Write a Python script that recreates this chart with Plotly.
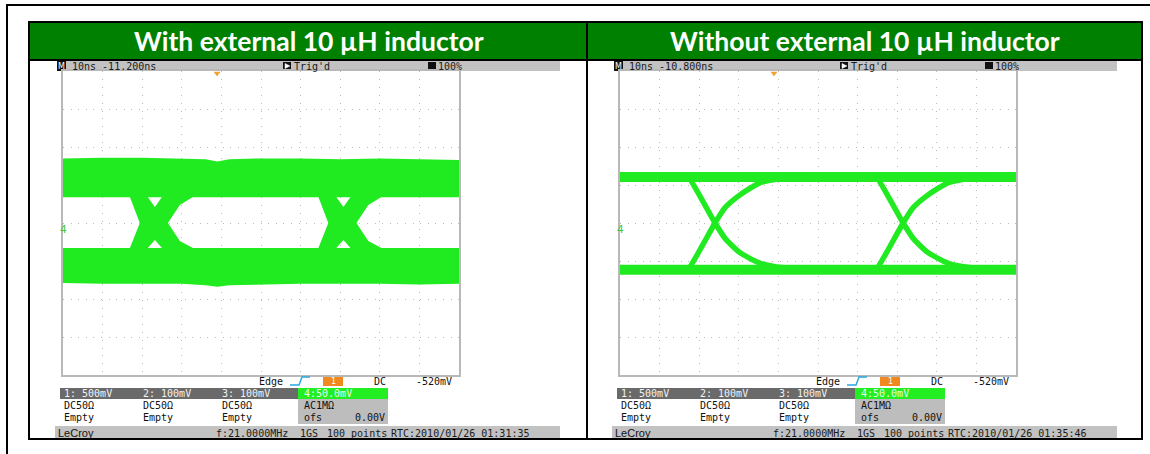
import plotly.graph_objects as go

W, H = 1150, 454
GREEN = "#20ea20"
MONO = "DejaVu Sans Mono"

# ---------------- data (time in ns, 10 ns/div; ch4 in mV, 50 mV/div) ----------------
x_range = [0, 100]
y_range = [-200, 200]

titles = ["With external 10 µH inductor", "Without external 10 µH inductor"]
timebase = ["10ns -11.200ns", "10ns -10.800ns"]
rtc = ["RTC:2010/01/26 01:31:35", "RTC:2010/01/26 01:35:46"]

# Left eye (with inductor): noisy bands
L_env_t = [0, 10, 20, 30, 36, 39, 42, 50, 60, 70, 80, 90, 100]
L_top_v = [85, 86, 86, 85, 84, 81, 84, 85, 85, 84, 85, 84, 83]
L_bot_v = [-79, -80, -80, -80, -82, -84, -82, -81, -80, -80, -80, -81, -80]
L_high_inner = 34
L_low_inner = -33
L_cross_t = [23.2, 70.8]
# transition regions relative to each crossing
L_fall_t = [-6.6, -6.3, -3.8, 0, 1.8, 2.4, 9.9, 9.6, 6.3, 3.3, 0, -1.8, -2.1]
L_fall_v = [40, 34.2, 0, -22.4, -32.9, -40, -40, -32.9, -23.7, 0, 21.1, 34.2, 40]
L_rise_t = [-6.6, -6.3, -3.8, 0, 1.8, 2.4, 9.9, 9.6, 6.3, 3.3, 0, -1.8, -2.1]
L_rise_v = [-40, -32.9, 0, 21.1, 34.2, 40, 40, 34.2, 23.7, 0, -22.4, -32.9, -40]

# Right eye (without inductor): clean thin traces
R_high = [67, 54]
R_low = [-55, -68]
R_cross_t = [24.0, 71.5]
R_edge_t = [-7.2, -6.8, 0, 2.5, 6.3, 11.4, 17.2, 23]
R_rise_v = [-61, -61, 0, 20, 37, 53, 59, 61]
R_fall_v = [61, 61, 0, -20, -39, -53, -59, -61]

ch_row1 = ["1: 500mV", "2: 100mV", "3: 100mV"]
ch_row2 = ["DC50Ω", "DC50Ω", "DC50Ω"]
ch_row3 = ["Empty", "Empty", "Empty"]

# ---------------- layout helpers ----------------
shapes, annos = [], []


def X(x):
    return x / W


def Y(y):
    return 1 - y / H


def rect(x0, y0, x1, y1, fill, lc=None, lw=0, layer="below"):
    shapes.append(dict(type="rect", xref="paper", yref="paper", x0=X(x0), x1=X(x1),
                       y0=Y(y1), y1=Y(y0), fillcolor=fill, layer=layer,
                       line=dict(width=lw, color=lc or fill)))


def hline(x0, x1, y, color="black", w=2):
    shapes.append(dict(type="line", xref="paper", yref="paper", x0=X(x0), x1=X(x1),
                       y0=Y(y), y1=Y(y), line=dict(color=color, width=w), layer="above"))


def vline(x, y0, y1, color="black", w=2):
    shapes.append(dict(type="line", xref="paper", yref="paper", x0=X(x), x1=X(x),
                       y0=Y(y0), y1=Y(y1), line=dict(color=color, width=w), layer="above"))


def path(pts, color, fill=None, w=1.5):
    d = "M " + " L ".join(f"{X(a):.5f},{Y(b):.5f}" for a, b in pts)
    if fill:
        d += " Z"
    shapes.append(dict(type="path", xref="paper", yref="paper", path=d, layer="above",
                       fillcolor=fill or "rgba(0,0,0,0)", line=dict(color=color, width=w)))


def text(x, y, s, size=10, color="#1a1a1a", family=MONO, anchor="left", bold=False):
    if bold:
        s = f"<b>{s}</b>"
    annos.append(dict(xref="paper", yref="paper", x=X(x), y=Y(y), text=s, showarrow=False,
                      xanchor=anchor, yanchor="middle",
                      font=dict(size=size, color=color, family=family)))


fig = go.Figure()

# ---------------- traces ----------------
def poly(xs, ys, axis):
    fig.add_trace(go.Scatter(x=xs, y=ys, fill="toself", fillcolor=GREEN, mode="lines",
                             line=dict(width=0, color=GREEN), xaxis="x" + axis,
                             yaxis="y" + axis, hoverinfo="skip", showlegend=False))


# left: upper band, lower band, transitions
poly(L_env_t + [100, 0], L_top_v + [L_high_inner, L_high_inner], "")
poly(L_env_t + [100, 0], L_bot_v + [L_low_inner, L_low_inner], "")
for c in L_cross_t:
    poly([c + t for t in L_fall_t], L_fall_v, "")
    poly([c + t for t in L_rise_t], L_rise_v, "")

# right: bands + edges
poly([0, 100, 100, 0], [R_high[0], R_high[0], R_high[1], R_high[1]], "2")
poly([0, 100, 100, 0], [R_low[0], R_low[0], R_low[1], R_low[1]], "2")
for c in R_cross_t:
    for vals in (R_rise_v, R_fall_v):
        fig.add_trace(go.Scatter(x=[c + t for t in R_edge_t], y=vals, mode="lines",
                                 line=dict(color=GREEN, width=5.5, shape="spline", smoothing=0.6),
                                 xaxis="x2", yaxis="y2", hoverinfo="skip", showlegend=False))

# ---------------- static page furniture ----------------
# outer page border
hline(6, 1150, 5, w=2)
vline(7, 5, 454, w=2)
# table
rect(29, 22, 587, 60, "#008000")
rect(587, 22, 1142, 60, "#008000")
hline(28, 1143, 22)
hline(28, 1143, 60)
hline(28, 1143, 439)
vline(29, 22, 439)
vline(587, 22, 439)
vline(1142, 22, 439)
text(309, 41.5, titles[0], size=26.5, color="white", family="Lato", anchor="center", bold=True)
text(865, 41.5, titles[1], size=26.5, color="white", family="Lato", anchor="center", bold=True)

for k, dx in enumerate([0, 557]):
    # top status bar
    rect(57 + dx, 61, 560 + dx, 71, "#c2c2c2")
    rect(57 + dx, 61, 66 + dx, 71, "#111111")
    text(61.5 + dx, 66.3, "M", size=8, color="white", anchor="center", family="DejaVu Sans")
    text(70 + dx, 66.3, timebase[k], size=10)
    rect(283 + dx, 62, 291 + dx, 70, "#111111")
    path([(285 + dx, 63.5), (290 + dx, 66), (285 + dx, 68.5)], "white", fill="white", w=0.5)
    text(292 + dx, 66.3, "Trig'd", size=10)
    rect(428 + dx, 62, 436 + dx, 70, "#111111")
    text(436 + dx, 66.3, "100%", size=10)
    # trigger marker
    path([(214 + dx, 72), (220 + dx, 72), (217 + dx, 76)], "#f0a030", fill="#f0a030", w=0.5)
    # channel marker
    text(58 + dx, 229, "4", size=10.5, color="#3cc83c", family="DejaVu Sans")
    # trigger row
    text(257 + dx, 381, "Edge", size=10, color="#111111")
    path([(290 + dx, 385), (299 + dx, 385), (302 + dx, 377), (310 + dx, 377)], "#2aa8e0", w=1.5)
    rect(323 + dx, 377, 343 + dx, 386, "#f08a20")
    text(333 + dx, 381.5, "1", size=8, color="white", anchor="center", family="DejaVu Sans")
    text(372 + dx, 381, "DC", size=10, color="#111111")
    text(414 + dx, 381, "-520mV", size=10, color="#111111")
    # channel table
    rect(60 + dx, 388, 298 + dx, 399, "#6a6a6a")
    rect(298 + dx, 388, 388 + dx, 399, "#22ee22")
    rect(298 + dx, 399, 388 + dx, 424, "#bdbdbd")
    for i, cx in enumerate([62, 141, 220]):
        text(cx + dx, 393.5, ch_row1[i], size=10, color="#f4f4f4")
        text(cx + dx, 405.5, ch_row2[i], size=10, color="#111111")
        text(cx + dx, 417.5, ch_row3[i], size=10, color="#111111")
    text(302 + dx, 393.5, "4:50.0mV", size=10, color="#e8ffe8")
    text(302 + dx, 405.5, "AC1MΩ", size=10, color="#111111")
    text(302 + dx, 417.5, "ofs", size=10, color="#111111")
    text(387 + dx, 417.5, "0.00V", size=10, color="#111111", anchor="right")
    # bottom bar
    rect(55 + dx, 426, 560 + dx, 439, "#c2c2c2")
    text(56 + dx, 433, "LeCroy", size=11, color="#111111", family="Liberation Sans")
    text(214 + dx, 433, "f:21.0000MHz", size=10)
    text(298 + dx, 433, "1GS", size=10)
    text(325 + dx, 433, "100 points", size=10)
    text(389 + dx, 433, rtc[k], size=10)

# ---------------- axes ----------------
def ax(domain):
    return dict(domain=domain, range=x_range, dtick=10, tick0=0, showticklabels=False,
                ticks="", showgrid=True, gridcolor="#bcbcbc", gridwidth=1,
                griddash="1px,6.9px", zeroline=False, showline=True, mirror=True,
                linecolor="#b8b8b8", linewidth=1.5, fixedrange=True)


def ay(domain):
    return dict(domain=domain, range=y_range, dtick=50, tick0=0, showticklabels=False,
                ticks="", showgrid=True, gridcolor="#bcbcbc", gridwidth=1,
                griddash="1px,6.6px", zeroline=False, showline=True, mirror=True,
                linecolor="#b8b8b8", linewidth=1.5, fixedrange=True)


ydom = [1 - 375 / H, 1 - 71 / H]
fig.update_layout(
    width=W, height=H, margin=dict(l=0, r=0, t=0, b=0),
    paper_bgcolor="white", plot_bgcolor="white",
    xaxis=ax([63 / W, 459 / W]), yaxis=ay(ydom),
    xaxis2=dict(ax([620 / W, 1016 / W]), anchor="y2"),
    yaxis2=dict(ay(ydom), anchor="x2"),
    shapes=shapes, annotations=annos, showlegend=False,
)
fig.update_layout(xaxis=dict(anchor="y"), yaxis=dict(anchor="x"))

fig.write_html("out.html", config={"displayModeBar": False},
               post_script="document.body.style.margin='0';document.body.style.overflow='hidden';")
